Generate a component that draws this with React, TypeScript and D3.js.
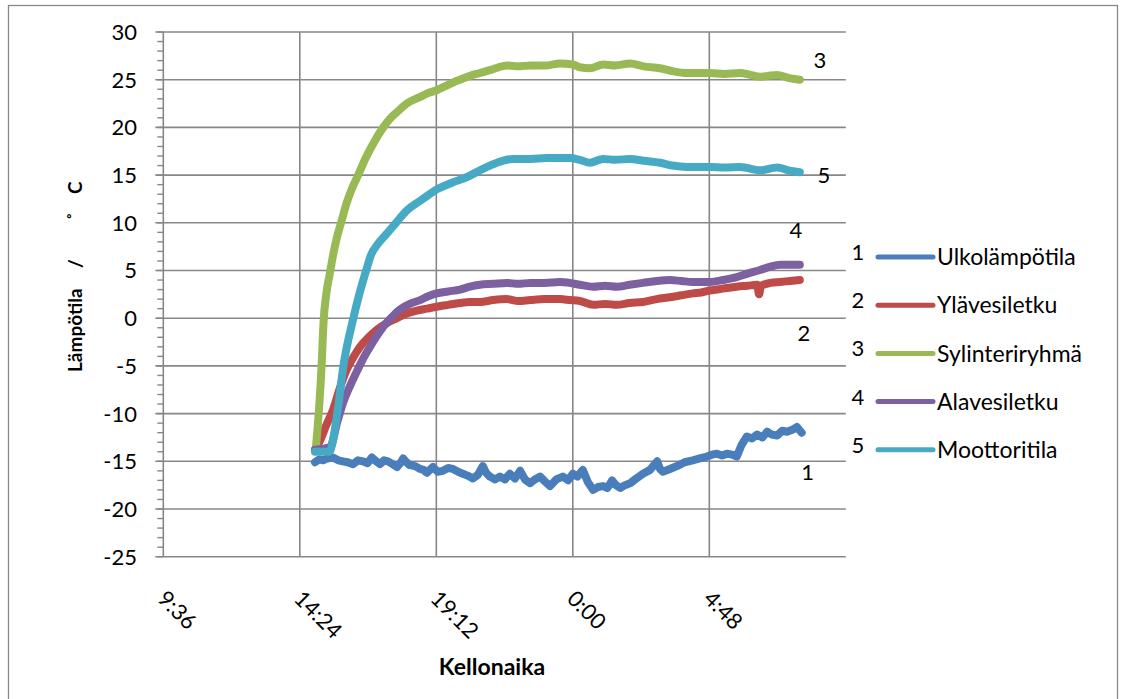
import React from "react";
import * as d3 from "d3";

// Temperature log: readings as [clock time, °C]; times before 9:36 belong to the next morning.
type Reading = [string, number];

const ulkolampotila: Reading[] = [
  ["14:56", -15.1], ["15:05", -14.8], ["15:13", -14.9], ["15:22", -14.7], ["15:34", -14.6],
  ["15:45", -14.9], ["15:55", -15.0], ["16:05", -15.1], ["16:16", -15.3], ["16:27", -14.9],
  ["16:37", -15.0], ["16:47", -15.2], ["16:56", -14.6], ["17:05", -15.0], ["17:13", -15.3],
  ["17:22", -14.9], ["17:30", -15.0], ["17:40", -15.3], ["17:49", -15.6], ["17:56", -15.2],
  ["18:02", -14.7], ["18:09", -15.1], ["18:16", -15.4], ["18:27", -15.5], ["18:38", -15.8],
  ["18:45", -15.9], ["18:52", -16.2], ["19:05", -15.6], ["19:15", -16.1], ["19:26", -16.0],
  ["19:37", -15.7], ["19:47", -15.8], ["19:58", -16.1], ["20:08", -16.3], ["20:18", -16.5],
  ["20:29", -16.8], ["20:40", -16.4], ["20:50", -15.5], ["20:57", -16.2], ["21:05", -16.6],
  ["21:16", -16.9], ["21:26", -16.6], ["21:37", -16.9], ["21:47", -16.3], ["21:58", -16.8],
  ["22:09", -16.0], ["22:19", -16.9], ["22:30", -17.3], ["22:40", -16.9], ["22:51", -16.6],
  ["23:01", -17.1], ["23:12", -17.6], ["23:25", -16.9], ["23:39", -16.6], ["23:50", -17.0],
  ["0:00", -16.3], ["0:10", -16.6], ["0:21", -15.9], ["0:32", -17.2], ["0:43", -18.0],
  ["0:53", -17.7], ["1:04", -17.6], ["1:13", -17.8], ["1:23", -17.0], ["1:31", -17.5],
  ["1:40", -17.8], ["1:50", -17.5], ["2:01", -17.3], ["2:14", -16.8], ["2:28", -16.3],
  ["2:43", -15.9], ["2:58", -15.0], ["3:04", -15.8], ["3:10", -16.1], ["3:25", -15.8],
  ["3:40", -15.5], ["3:56", -15.1], ["4:13", -14.9], ["4:28", -14.7], ["4:43", -14.5],
  ["4:54", -14.3], ["5:04", -14.2], ["5:15", -14.4], ["5:25", -14.2], ["5:36", -14.3],
  ["5:46", -14.5], ["5:56", -13.3], ["6:07", -12.4], ["6:18", -12.6], ["6:29", -12.2],
  ["6:40", -12.5], ["6:50", -11.9], ["7:00", -12.2], ["7:11", -12.3], ["7:22", -11.8],
  ["7:32", -11.9], ["7:43", -11.7], ["7:53", -11.4], ["8:03", -12.0],
];

const ylavesiletku: Reading[] = [
  ["14:56", -13.8], ["15:07", -12.8], ["15:20", -11.2], ["15:34", -9.6], ["15:48", -7.4],
  ["16:03", -5.4], ["16:17", -4.1], ["16:31", -3.0], ["16:49", -2.0], ["17:07", -1.2],
  ["17:28", -0.5], ["17:49", 0.0], ["18:10", 0.5], ["18:31", 0.8], ["18:52", 1.0],
  ["19:13", 1.2], ["19:37", 1.4], ["20:02", 1.6], ["20:23", 1.7], ["20:44", 1.7],
  ["21:12", 1.9], ["21:41", 2.0], ["22:05", 1.8], ["22:30", 1.9], ["23:00", 2.0],
  ["23:33", 2.0], ["23:54", 1.9], ["0:15", 1.8], ["0:43", 1.4], ["1:08", 1.5],
  ["1:33", 1.4], ["2:00", 1.6], ["2:28", 1.7], ["2:57", 2.0], ["3:25", 2.2],
  ["3:49", 2.4], ["4:13", 2.6], ["4:31", 2.7], ["4:49", 2.9], ["5:17", 3.1],
  ["5:46", 3.3], ["6:08", 3.4], ["6:29", 3.5], ["6:33", 2.5], ["6:37", 3.4],
  ["6:57", 3.7], ["7:17", 3.8], ["7:38", 3.9], ["7:59", 4.0],
];

const sylinteriryhma: Reading[] = [
  ["14:58", -13.6], ["15:10", -5.0], ["15:14", -0.5], ["15:20", 2.6], ["15:27", 4.6],
  ["15:35", 6.8], ["15:43", 8.6], ["15:51", 10.0], ["16:03", 12.1], ["16:15", 13.7],
  ["16:27", 15.0], ["16:43", 16.8], ["17:00", 18.4], ["17:20", 20.0], ["17:34", 20.9],
  ["17:49", 21.6], ["18:10", 22.5], ["18:38", 23.2], ["18:55", 23.6], ["19:13", 23.9],
  ["19:30", 24.3], ["19:47", 24.7], ["20:02", 25.0], ["20:23", 25.4], ["20:44", 25.7],
  ["21:05", 26.0], ["21:23", 26.3], ["21:41", 26.5], ["22:05", 26.4], ["22:30", 26.5],
  ["23:05", 26.5], ["23:33", 26.7], ["0:00", 26.6], ["0:15", 26.3], ["0:36", 26.2],
  ["1:04", 26.6], ["1:30", 26.5], ["2:01", 26.7], ["2:30", 26.4], ["3:04", 26.2],
  ["3:30", 25.9], ["4:01", 25.7], ["4:25", 25.7], ["4:49", 25.7], ["5:20", 25.6],
  ["5:53", 25.7], ["6:15", 25.5], ["6:35", 25.3], ["6:52", 25.4], ["7:11", 25.5],
  ["7:35", 25.2], ["7:59", 25.0],
];

const alavesiletku: Reading[] = [
  ["14:56", -13.8], ["15:28", -13.5], ["15:43", -10.9], ["15:55", -8.9], ["16:10", -7.1],
  ["16:25", -5.5], ["16:38", -4.2], ["16:52", -3.0], ["17:06", -1.9], ["17:20", -0.9],
  ["17:38", 0.1], ["17:55", 0.9], ["18:16", 1.5], ["18:38", 1.9], ["18:55", 2.3],
  ["19:13", 2.6], ["19:37", 2.8], ["20:02", 3.0], ["20:23", 3.3], ["20:44", 3.5],
  ["21:12", 3.6], ["21:41", 3.7], ["22:05", 3.6], ["22:30", 3.7], ["23:00", 3.7],
  ["23:33", 3.8], ["23:54", 3.7], ["0:15", 3.5], ["0:43", 3.3], ["1:08", 3.4],
  ["1:33", 3.3], ["2:00", 3.5], ["2:28", 3.7], ["2:57", 3.9], ["3:25", 4.0],
  ["3:49", 3.9], ["4:13", 3.8], ["4:31", 3.8], ["4:49", 3.8], ["5:17", 4.0],
  ["5:46", 4.3], ["6:10", 4.7], ["6:35", 5.05], ["6:57", 5.4], ["7:17", 5.6],
  ["7:38", 5.6], ["7:59", 5.6],
];

const moottoritila: Reading[] = [
  ["14:56", -14.0], ["15:26", -14.0], ["15:43", -10.0], ["15:56", -5.0], ["16:17", 0.0],
  ["16:30", 2.6], ["16:44", 5.0], ["16:54", 6.6], ["17:09", 7.8], ["17:30", 9.0],
  ["17:47", 10.0], ["18:10", 11.3], ["18:38", 12.3], ["18:55", 12.9], ["19:13", 13.5],
  ["19:45", 14.2], ["20:17", 14.8], ["20:48", 15.6], ["21:20", 16.3], ["21:54", 16.7],
  ["22:30", 16.7], ["23:05", 16.8], ["23:54", 16.8], ["0:15", 16.6], ["0:36", 16.3],
  ["1:04", 16.7], ["1:30", 16.6], ["2:01", 16.7], ["2:30", 16.5], ["3:04", 16.3],
  ["3:30", 16.0], ["4:01", 15.85], ["4:49", 15.85], ["5:20", 15.8], ["5:53", 15.85],
  ["6:35", 15.5], ["7:11", 15.8], ["7:35", 15.5], ["7:59", 15.3],
];

const seriesNames = ["Ulkolämpötila", "Ylävesiletku", "Sylinteriryhmä", "Alavesiletku", "Moottoritila"];
const seriesNumbers = ["1", "2", "3", "4", "5"];
const seriesData = [ulkolampotila, ylavesiletku, sylinteriryhma, alavesiletku, moottoritila];
const seriesColors = ["#4a7ebb", "#be4b48", "#98b954", "#7d60a0", "#46aac5"];
// Placement of the number tag next to each curve's last reading
const endTagOffsets: [number, number][] = [[6, 39], [4, 53], [20, -20], [-4, -35], [24, 3]];

const yTickValues = [-25, -20, -15, -10, -5, 0, 5, 10, 15, 20, 25, 30];
const xTickCount = 6;
const xTickStepMinutes = 288;

const xTitle = "Kellonaika";
// value-axis title pieces with their offsets along the rotated baseline
const yTitleParts: [string, number][] = [["Lämpötila", 0], ["/", 104], ["˚", 152], ["C", 178]];

const W = 1122;
const H = 699;
const plotLeft = 163.3;
const plotRight = 845.8;
const plotTop = 32;
const plotBottom = 556.7;
const gridColor = "#878787";
const font = "Lato, 'Open Sans', sans-serif";

const dayStart = new Date(2000, 0, 1, 9, 36);
function toDate(clock: string): Date {
  const [h, m] = clock.split(":").map(Number);
  let mins = h * 60 + m;
  if (mins < 9 * 60 + 36) mins += 24 * 60;
  return new Date(2000, 0, 1, 0, mins);
}

export default function App() {
  const xTicks = d3.range(xTickCount).map((i) => d3.timeMinute.offset(dayStart, i * xTickStepMinutes));
  const x = d3
    .scaleTime()
    .domain([xTicks[0], xTicks[xTicks.length - 1]])
    .range([plotLeft, plotRight]);
  const y = d3.scaleLinear().domain([-25, 30]).range([plotBottom, plotTop]);
  const fmt = d3.timeFormat("%-H:%M");
  const minorTicks = d3.range(-25, 31, 1);
  // the closing 9:36 boundary carries neither gridline nor label
  const shownTicks = xTicks.slice(0, -1);

  const lineSmooth = d3
    .line<Reading>()
    .x((d) => x(toDate(d[0])))
    .y((d) => y(d[1]))
    .curve(d3.curveMonotoneX);
  const lineRaw = d3
    .line<Reading>()
    .x((d) => x(toDate(d[0])))
    .y((d) => y(d[1]));

  const legendTop = 257;
  const legendStep = 48.2;

  return (
    <svg
      width={W}
      height={H}
      style={{ position: "absolute", left: 0, top: 0, background: "#fff" }}
      fontFamily={font}
    >
      <rect x={8.5} y={5.5} width={1109} height={720} fill="#fff" stroke={gridColor} strokeWidth={1.3} />

      {/* horizontal gridlines */}
      {yTickValues.map((v) => (
        <line key={"hg" + v} x1={plotLeft - 8} x2={plotRight} y1={y(v)} y2={y(v)} stroke={gridColor} strokeWidth={1.6} />
      ))}
      {/* minor ticks on the value axis */}
      {minorTicks.map((v) => (
        <line key={"mt" + v} x1={plotLeft - 6} x2={plotLeft} y1={y(v)} y2={y(v)} stroke={gridColor} strokeWidth={1.4} />
      ))}
      {/* vertical gridlines */}
      {shownTicks.map((t, i) => (
        <line key={"vg" + i} x1={x(t)} x2={x(t)} y1={plotTop} y2={plotBottom} stroke={gridColor} strokeWidth={1.6} />
      ))}

      {/* y tick labels */}
      {yTickValues.map((v) => (
        <text key={"yl" + v} x={137} y={y(v)} dy="0.36em" textAnchor="end" fontSize={22} fill="#000">
          {v}
        </text>
      ))}
      {/* x tick labels, rotated */}
      {shownTicks.map((t, i) => (
        <text
          key={"xl" + i}
          transform={`translate(${x(t) - 7},600) rotate(45)`}
          fontSize={22}
          fill="#000"
        >
          {fmt(t)}
        </text>
      ))}

      {/* series */}
      {seriesData.map((data, i) => (
        <path
          key={"s" + i}
          d={(i === 0 ? lineRaw(data) : lineSmooth(data)) || ""}
          fill="none"
          stroke={seriesColors[i]}
          strokeWidth={8}
          strokeLinejoin="round"
          strokeLinecap="round"
        />
      ))}

      {/* number tags at curve ends */}
      {seriesData.map((data, i) => {
        const last = data[data.length - 1];
        return (
          <text
            key={"tag" + i}
            x={x(toDate(last[0])) + endTagOffsets[i][0]}
            y={y(last[1]) + endTagOffsets[i][1]}
            dy="0.36em"
            textAnchor="middle"
            fontSize={22}
            fill="#000"
          >
            {seriesNumbers[i]}
          </text>
        );
      })}

      {/* legend */}
      {seriesNames.map((name, i) => {
        const ly = legendTop + i * legendStep;
        return (
          <g key={"lg" + i}>
            <text x={858} y={ly - 5} dy="0.36em" textAnchor="middle" fontSize={22} fill="#000">
              {seriesNumbers[i]}
            </text>
            <line x1={878} x2={933} y1={ly} y2={ly} stroke={seriesColors[i]} strokeWidth={5} strokeLinecap="round" />
            <text x={937} y={ly} dy="0.36em" fontSize={23} fill="#000">
              {name}
            </text>
          </g>
        );
      })}

      {/* axis titles */}
      <text x={492} y={675} textAnchor="middle" fontSize={23} fontWeight="bold" fill="#000">
        {xTitle}
      </text>
      <text transform={`translate(82,372) rotate(-90)`} fontSize={19} fontWeight="bold" fill="#000">
        {yTitleParts.map(([part, offset]) => (
          <tspan key={part} x={offset}>
            {part}
          </tspan>
        ))}
      </text>
    </svg>
  );
}
